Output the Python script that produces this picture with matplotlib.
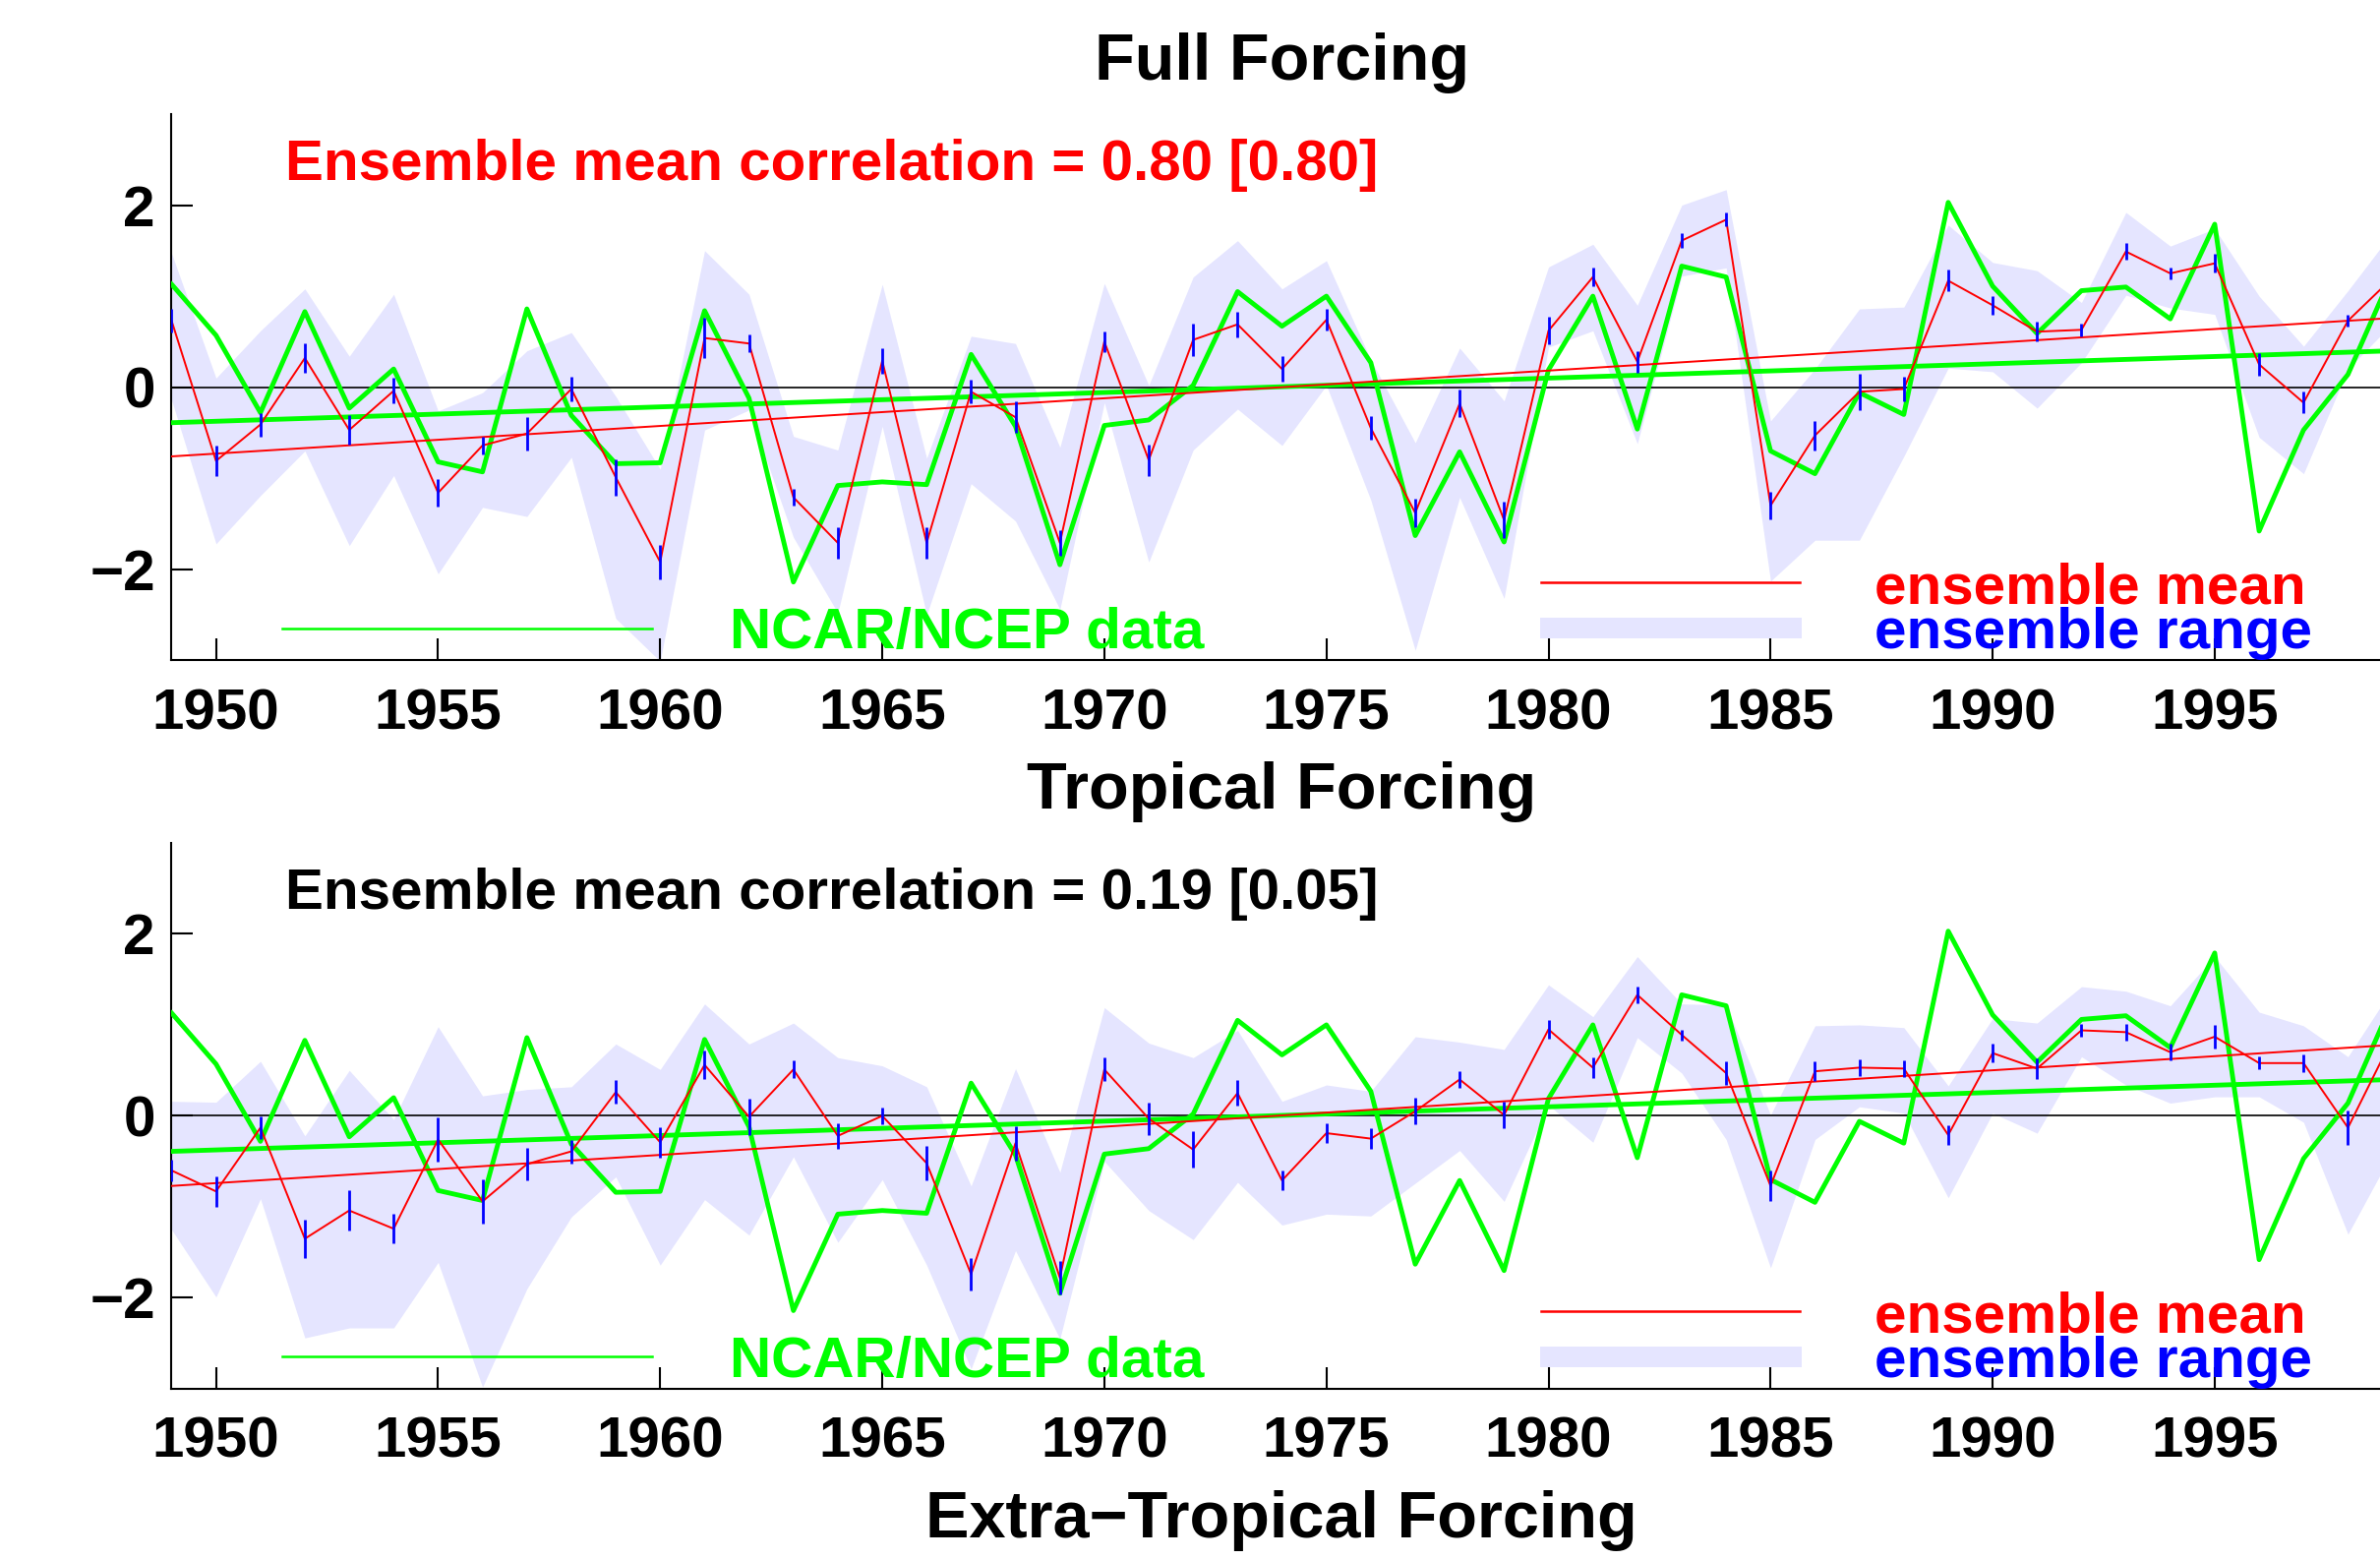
import numpy as np
import matplotlib
matplotlib.use("Agg")
import matplotlib.pyplot as plt

plt.rcParams['font.family'] = ['Liberation Sans', 'DejaVu Sans']
plt.rcParams['font.weight'] = 'bold'

years = np.arange(1949, 2000)

# NCAR/NCEP observed index (green)
obs = [1.13, 0.57, -0.28, 0.83, -0.23, 0.20, -0.82, -0.93, 0.86, -0.31,
       -0.84, -0.83, 0.84, -0.12, -2.14, -1.08, -1.04, -1.07, 0.36, -0.43,
       -1.95, -0.42, -0.36, 0.02, 1.05, 0.67, 1.00, 0.27, -1.63, -0.71,
       -1.70, 0.19, 1.00, -0.46, 1.33, 1.21, -0.70, -0.95, -0.06, -0.30,
       2.03, 1.11, 0.59, 1.06, 1.10, 0.75, 1.79, -1.58, -0.47, 0.14, 1.25]

# full forcing ensemble
full_mean = [0.73, -0.81, -0.41, 0.32, -0.47, -0.04, -1.16, -0.64, -0.51, -0.02,
             -0.99, -1.92, 0.54, 0.48, -1.21, -1.71, 0.29, -1.71, -0.05, -0.33,
             -1.71, 0.50, -0.80, 0.52, 0.69, 0.20, 0.74, -0.45, -1.38, -0.18,
             -1.46, 0.62, 1.21, 0.28, 1.61, 1.84, -1.30, -0.53, -0.05, -0.02,
             1.17, 0.90, 0.61, 0.63, 1.49, 1.25, 1.36, 0.25, -0.17, 0.73, 1.20]
full_err = [0.13, 0.17, 0.13, 0.16, 0.16, 0.14, 0.155, 0.10, 0.18, 0.13,
            0.20, 0.19, 0.22, 0.10, 0.09, 0.17, 0.14, 0.17, 0.13, 0.17,
            0.145, 0.11, 0.175, 0.18, 0.14, 0.14, 0.12, 0.13, 0.16, 0.15,
            0.20, 0.15, 0.10, 0.12, 0.08, 0.075, 0.15, 0.16, 0.20, 0.13,
            0.12, 0.10, 0.11, 0.07, 0.09, 0.065, 0.10, 0.12, 0.12, 0.065, 0.12]
full_hi = [1.47, 0.10, 0.62, 1.08, 0.34, 1.02, -0.26, -0.06, 0.40, 0.60,
           -0.10, -0.90, 1.50, 1.02, -0.54, -0.69, 1.13, -0.78, 0.56, 0.48,
           -0.66, 1.14, 0.02, 1.21, 1.61, 1.08, 1.39, 0.30, -0.61, 0.43,
           -0.15, 1.32, 1.57, 0.90, 2.00, 2.17, -0.37, 0.20, 0.86, 0.88,
           1.78, 1.37, 1.28, 0.93, 1.92, 1.55, 1.74, 1.00, 0.45, 1.06, 1.70]
full_lo = [-0.14, -1.72, -1.19, -0.70, -1.74, -0.97, -2.05, -1.32, -1.42, -0.77,
           -2.54, -3.01, -0.47, -0.25, -1.65, -2.48, -0.43, -2.50, -1.06, -1.47,
           -2.44, -0.17, -1.92, -0.69, -0.24, -0.64, 0.02, -1.24, -2.89, -1.21,
           -2.32, 0.44, 0.62, -0.62, 1.22, 1.31, -2.13, -1.68, -1.68, -0.76,
           0.21, 0.17, -0.23, 0.27, 1.01, 0.87, 0.80, -0.55, -0.95, 0.20, 0.70]

# tropical forcing ensemble
trop_mean = [-0.60, -0.83, -0.13, -1.35, -1.04, -1.24, -0.26, -0.94, -0.53, -0.39,
             0.26, -0.29, 0.56, -0.01, 0.51, -0.22, 0.00, -0.52, -1.74, -0.30,
             -1.78, 0.51, -0.03, -0.37, 0.25, -0.71, -0.19, -0.25, 0.05, 0.40,
             0.01, 0.95, 0.53, 1.33, 0.89, 0.47, -0.77, 0.49, 0.53, 0.52,
             -0.21, 0.69, 0.52, 0.94, 0.92, 0.70, 0.87, 0.58, 0.58, -0.13, 0.85]
trop_err = [0.12, 0.17, 0.12, 0.21, 0.22, 0.16, 0.24, 0.24, 0.18, 0.13,
            0.13, 0.165, 0.16, 0.20, 0.095, 0.14, 0.09, 0.19, 0.18, 0.19,
            0.18, 0.13, 0.18, 0.20, 0.14, 0.11, 0.11, 0.11, 0.145, 0.09,
            0.15, 0.10, 0.115, 0.095, 0.06, 0.125, 0.165, 0.11, 0.09, 0.09,
            0.11, 0.10, 0.11, 0.065, 0.09, 0.09, 0.125, 0.07, 0.10, 0.19, 0.12]
trop_hi = [0.16, 0.15, 0.60, -0.22, 0.50, -0.04, 0.98, 0.22, 0.29, 0.32,
           0.79, 0.51, 1.23, 0.79, 1.02, 0.64, 0.55, 0.32, -0.77, 0.52,
           -0.62, 1.19, 0.80, 0.64, 0.94, 0.16, 0.34, 0.27, 0.87, 0.81,
           0.73, 1.44, 1.09, 1.75, 1.23, 1.22, 0.01, 0.99, 1.00, 0.97,
           0.33, 1.07, 1.02, 1.42, 1.37, 1.21, 1.75, 1.14, 0.99, 0.65, 1.40]
trop_lo = [-1.25, -1.99, -0.91, -2.44, -2.33, -2.33, -1.61, -2.98, -1.90, -1.11,
           -0.67, -1.64, -0.92, -1.31, -0.45, -1.39, -0.70, -1.64, -2.78, -1.48,
           -2.45, -0.50, -1.04, -1.36, -0.73, -1.20, -1.08, -1.10, -0.74, -0.38,
           -0.94, 0.12, -0.29, 0.86, 0.47, -0.26, -1.67, -0.26, 0.10, 0.03,
           -0.90, 0.03, -0.19, 0.65, 0.34, 0.14, 0.21, 0.21, -0.07, -1.30, -0.40]

# linear trends (end points 1949 and 1999)
trend_years = [1949, 1999]
obs_trend = [-0.39, 0.40]
full_trend = [-0.76, 0.76]
trop_trend = [-0.77, 0.78]

range_color = '#e5e5ff'
green = '#00ff00'


def draw_panel(ax, mean, err, lo, hi, trend, corr_text, corr_color, title):
    ax.fill_between(years, lo, hi, color=range_color, lw=0, zorder=1)
    ax.axhline(0, color='k', lw=1.2, zorder=2)
    ax.plot(years, obs, color=green, lw=3.5, zorder=3)
    ax.plot(trend_years, obs_trend, color=green, lw=3.5, zorder=3)
    ax.plot(trend_years, trend, color='red', lw=1.4, zorder=4)
    ax.plot(years, mean, color='red', lw=1.4, zorder=4)
    ax.errorbar(years, mean, yerr=err, fmt='none', ecolor='blue',
                elinewidth=2.0, capsize=0, zorder=5)

    ax.set_xlim(1949, 1999)
    ax.set_ylim(-3, 3)
    ax.set_xticks(range(1950, 2000, 5))
    ax.set_yticks([-2, 0, 2])
    ax.tick_params(direction='in', length=16, width=1.5, labelsize=42)
    ax.tick_params(axis='x', pad=20)
    ax.tick_params(axis='y', pad=12)
    for s in ['top', 'right']:
        ax.spines[s].set_visible(False)
    for s in ['left', 'bottom']:
        ax.spines[s].set_linewidth(1.5)

    ax.set_title(title, fontsize=48, fontweight='bold', pad=25)

    # hand-made legend, MATLAB style
    tr = ax.transAxes
    ax.text(0.0512, 0.8787, corr_text, color=corr_color, fontsize=42,
            fontweight='bold', transform=tr, va='baseline')
    ax.plot([0.050, 0.2163], [0.0587, 0.0587], color=green, lw=1.8,
            transform=tr, clip_on=False)
    ax.text(0.2513, 0.0214, 'NCAR/NCEP data', color=green, fontsize=42,
            fontweight='bold', transform=tr, va='baseline')
    ax.plot([0.6167, 0.7332], [0.142, 0.142], color='red', lw=1.8,
            transform=tr, clip_on=False)
    ax.fill_between([0.6163, 0.7341], 0.0403, 0.0781, color=range_color,
                    lw=0, transform=tr)
    ax.text(0.7668, 0.1034, 'ensemble mean', color='red', fontsize=42,
            fontweight='bold', transform=tr, va='baseline')
    ax.text(0.7668, 0.0214, 'ensemble range', color='blue', fontsize=42,
            fontweight='bold', transform=tr, va='baseline')


fig = plt.figure(figsize=(24.2, 15.86), dpi=100)
ax1 = fig.add_axes([0.0721, 0.5767, 0.9331, 0.3502])
ax2 = fig.add_axes([0.0721, 0.1097, 0.9331, 0.3500])

draw_panel(ax1, full_mean, full_err, full_lo, full_hi, full_trend,
           'Ensemble mean correlation = 0.80 [0.80]', 'red', 'Full Forcing')
draw_panel(ax2, trop_mean, trop_err, trop_lo, trop_hi, trop_trend,
           'Ensemble mean correlation = 0.19 [0.05]', 'black', 'Tropical Forcing')

fig.text(0.5384, 1 - 1563 / 1586, 'Extra\u2212Tropical Forcing', ha='center',
         va='baseline', fontsize=48, fontweight='bold')

fig.savefig('out.png', dpi=100, facecolor='white')
